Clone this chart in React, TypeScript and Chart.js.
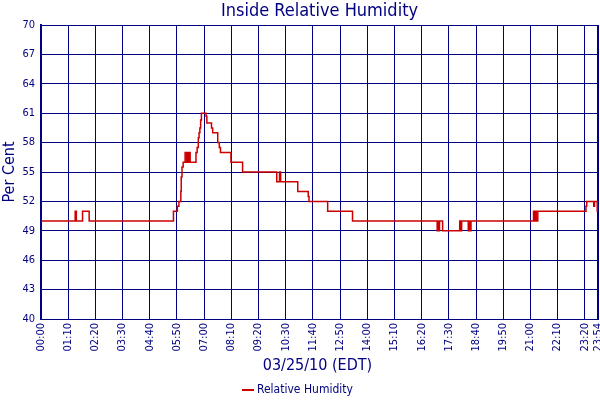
import React, { useEffect, useRef } from "react";
import { Chart, registerables } from "chart.js";

Chart.register(...registerables);

// Change points: value holds from this minute until the next one
const changeMinutes = [
  0, 88, 91, 107, 124, 341, 351, 355, 360, 361, 363, 366, 368, 371, 375, 377, 379, 381, 384,
  399, 402, 405, 407, 409, 411, 413, 425, 427, 439, 442, 455, 459, 462, 489, 519,
  607, 614, 617, 661, 688, 690, 738, 802,
  1020, 1022, 1024, 1026, 1034, 1078, 1080, 1083, 1100, 1102, 1104, 1107,
  1268, 1270, 1272, 1275, 1279, 1403, 1405, 1423, 1425, 1432, 1434,
];
const humidityValues = [
  50, 51, 50, 51, 50, 51, 51.5, 52, 53, 54.5, 55.5, 56, 56, 57, 56, 57, 56, 57, 56,
  57, 57.5, 58.5, 59, 59.5, 60.3, 61, 60.7, 60, 59.5, 59, 58, 57.5, 57, 56, 55,
  54, 55, 54, 53, 52.5, 52, 51, 50,
  49, 50, 49, 50, 49, 50, 49, 50, 49, 50, 49, 50,
  51, 50, 51, 50, 51, 51.5, 52, 51.5, 52, 51, 51,
];
const xTickMinutes = [0, 70, 140, 210, 280, 350, 420, 490, 560, 630, 700, 770, 840, 910, 980, 1050, 1120, 1190, 1260, 1330, 1400, 1434];
const yTickValues = [40, 43, 46, 49, 52, 55, 58, 61, 64, 67, 70];

const chartTitle = "Inside Relative Humidity";
const xAxisTitle = "03/25/10 (EDT)";
const yAxisTitle = "Per Cent";
const seriesLabel = "Relative Humidity";

const NAVY = "#000080";
const RED = "#cc0000";
const FONT = '"DejaVu Sans Condensed", "Liberation Sans", sans-serif';

function fmt(m: number): string {
  const h = Math.floor(m / 60);
  const mm = Math.round(m % 60);
  return String(h).padStart(2, "0") + ":" + String(mm).padStart(2, "0");
}

export default function App() {
  const ref = useRef<HTMLCanvasElement | null>(null);

  useEffect(() => {
    document.body.style.margin = "0";
    const canvas = ref.current;
    if (!canvas) return;

    const data = changeMinutes.map((m, i) => ({ x: m, y: humidityValues[i] }));

    const textPlugin = {
      id: "texts",
      afterDraw(chart: any) {
        const ctx = chart.ctx;
        const area = chart.chartArea;
        const cx = (area.left + area.right) / 2;
        ctx.save();
        ctx.fillStyle = NAVY;
        ctx.textAlign = "center";
        ctx.textBaseline = "middle";
        ctx.font = `18px ${FONT}`;
        ctx.fillText(chartTitle, cx, 11);
        ctx.font = `16px ${FONT}`;
        ctx.fillText(xAxisTitle, cx - 2, 366);
        // legend
        ctx.strokeStyle = RED;
        ctx.lineWidth = 2;
        ctx.beginPath();
        ctx.moveTo(242, 390);
        ctx.lineTo(254, 390);
        ctx.stroke();
        ctx.textAlign = "left";
        ctx.font = `12px ${FONT}`;
        ctx.fillText(seriesLabel, 257, 390);
        ctx.restore();
      },
    };

    const chart = new Chart(canvas, {
      type: "line",
      data: {
        datasets: [
          {
            label: seriesLabel,
            data,
            borderColor: RED,
            backgroundColor: RED,
            borderWidth: 1.5,
            pointRadius: 0,
            stepped: true,
            fill: false,
          },
        ],
      },
      options: {
        responsive: false,
        animation: false,
        events: [],
        layout: { padding: { top: 25, right: 2, left: 0, bottom: 0 } },
        plugins: {
          legend: { display: false },
          title: { display: false },
          tooltip: { enabled: false },
        },
        scales: {
          x: {
            type: "linear",
            min: 0,
            max: 1434,
            afterBuildTicks: (scale: any) => {
              scale.ticks = xTickMinutes.map((v) => ({ value: v }));
            },
            afterFit: (scale: any) => {
              scale.height = 81;
              scale.paddingLeft = 0;
              scale.paddingRight = 0;
            },
            ticks: {
              autoSkip: false,
              maxRotation: 90,
              minRotation: 90,
              padding: 4,
              color: NAVY,
              font: { family: FONT, size: 11 },
              callback: (v: any) => fmt(Number(v)),
            },
            grid: {
              color: NAVY,
              drawTicks: false,
              lineWidth: (c: any) => (c.tick && c.tick.value === 1434 ? 2 : 1),
            },
            border: { color: NAVY, width: 1 },
          },
          y: {
            min: 40,
            max: 70,
            afterBuildTicks: (scale: any) => {
              scale.ticks = yTickValues.map((v) => ({ value: v }));
            },
            afterFit: (scale: any) => {
              scale.width = 41;
              scale.paddingTop = 0;
              scale.paddingBottom = 0;
            },
            ticks: {
              padding: 6,
              color: NAVY,
              font: { family: FONT, size: 11 },
            },
            grid: { color: NAVY, drawTicks: false, lineWidth: 1 },
            border: { color: NAVY, width: 2 },
            title: {
              display: true,
              text: yAxisTitle,
              color: NAVY,
              font: { family: FONT, size: 16 },
              padding: { top: 0, bottom: 0 },
            },
          },
        },
      },
      plugins: [textPlugin],
    } as any);

    return () => chart.destroy();
  }, []);

  return <canvas ref={ref} width={600} height={400} style={{ display: "block" }} />;
}
